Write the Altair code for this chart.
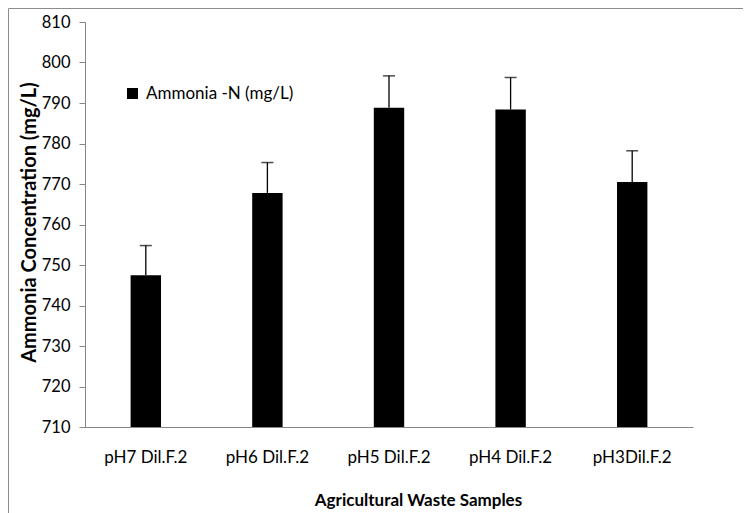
import altair as alt
import pandas as pd

categories = ["pH7 Dil.F.2", "pH6 Dil.F.2", "pH5 Dil.F.2", "pH4 Dil.F.2", "pH3Dil.F.2"]
values = [747.5, 767.8, 788.8, 788.4, 770.5]
errors = [7.3, 7.5, 7.9, 7.9, 7.7]
series_name = "Ammonia -N (mg/L)"
y_ticks = list(range(710, 811, 10))

df = pd.DataFrame({
    "sample": categories,
    "value": values,
    "err": errors,
    "series": [series_name] * len(categories),
})
df["upper"] = df["value"] + df["err"]

FONT = "Lato"
W, H = 608, 405
PAD = {"left": 77, "top": 14, "right": 50, "bottom": 86}
AXIS_GRAY = "#868686"

x_axis = alt.Axis(
    title="Agricultural Waste Samples", labelAngle=0, ticks=False,
    labelPadding=22, labelFont=FONT, labelFontSize=17, labelColor="#000000",
    titleFont=FONT, titleFontSize=17, titleFontWeight="bold", titleColor="#000000",
    titleX=333, titleY=73, titleAlign="center", titleBaseline="middle",
    domainColor=AXIS_GRAY, domainWidth=1,
)
y_axis = alt.Axis(
    title="Ammonia Concentration (mg/L)", values=y_ticks, format="d", grid=False,
    tickSize=6, tickColor=AXIS_GRAY, domainColor=AXIS_GRAY, labelPadding=9,
    labelFont=FONT, labelFontSize=16.5, labelColor="#000000",
    titleFont=FONT, titleFontSize=20, titleFontWeight="bold", titleColor="#000000",
    titleX=-56, titleY=200, titleAlign="center", titleBaseline="middle",
)

x_enc = alt.X("sample:N", sort=categories,
              scale=alt.Scale(paddingInner=0.75, paddingOuter=0.375), axis=x_axis)
y_scale = alt.Scale(domain=[710, 810], zero=False, nice=False)

base = alt.Chart(df)

bars = base.mark_bar().encode(
    x=x_enc,
    y=alt.Y("value:Q", scale=y_scale, axis=y_axis),
    y2=alt.datum(710),
    color=alt.Color(
        "series:N", scale=alt.Scale(range=["#000000"]),
        legend=alt.Legend(
            title=None, orient="none", legendX=39, legendY=63, padding=0,
            symbolType="square", symbolSize=121, symbolStrokeWidth=0,
            labelFont=FONT, labelFontSize=17, labelColor="#000000", labelOffset=5,
        ),
    ),
)

err_rule = base.mark_rule(color="#000000", strokeWidth=1.3).encode(
    x=x_enc,
    y=alt.Y("value:Q", scale=y_scale, axis=y_axis),
    y2="upper:Q",
)

caps = base.mark_tick(color="#000000", thickness=1.5, size=12).encode(
    x=x_enc,
    y=alt.Y("upper:Q", scale=y_scale, axis=y_axis),
)

frame_df = pd.DataFrame({"k": [0]})
frame_left = alt.Chart(frame_df).mark_rule(color="#8c8c8c", strokeWidth=1).encode(
    x=alt.value(-PAD["left"] + 0.5), y=alt.value(-PAD["top"] + 0.5),
    y2=alt.value(H + PAD["bottom"]),
)
frame_top = alt.Chart(frame_df).mark_rule(color="#8c8c8c", strokeWidth=1).encode(
    x=alt.value(-PAD["left"] + 0.5), x2=alt.value(W + PAD["right"]),
    y=alt.value(-PAD["top"] + 0.5),
)

chart = alt.layer(bars, err_rule, caps, frame_left, frame_top).properties(
    width=W, height=H, padding=PAD,
    autosize=alt.AutoSizeParams(type="none"),
).configure_view(stroke=None)

chart.save("out.html", embed_options={"renderer": "svg", "actions": False})
